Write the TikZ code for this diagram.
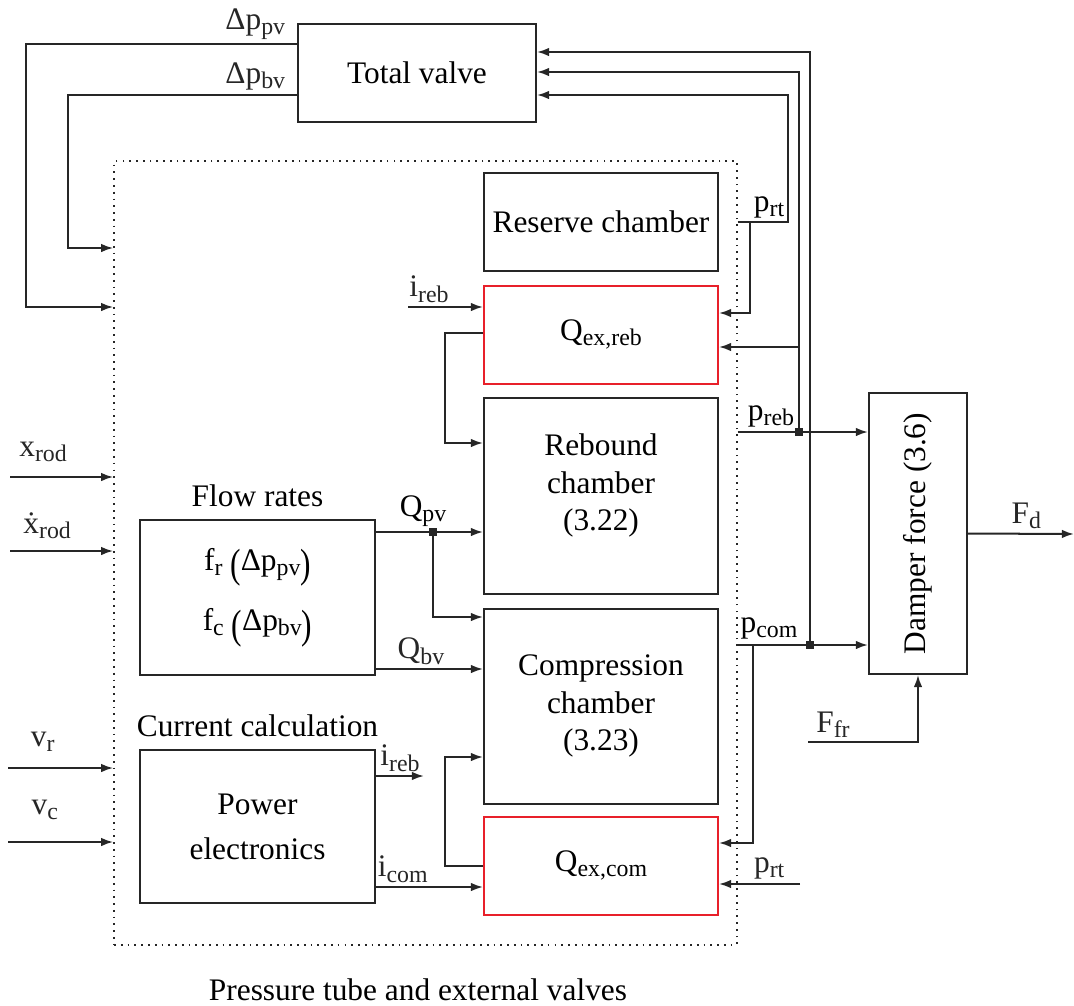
\documentclass[tikz,border=0pt]{standalone}
\usepackage{fontspec}
\setmainfont{Liberation Serif}
\usetikzlibrary{arrows.meta,positioning}
\definecolor{qred}{RGB}{232,32,42}
\newcommand{\sbs}[1]{\raisebox{-0.35ex}{\fontsize{9.5}{9.5}\selectfont #1}}
\newcommand{\bpar}[1]{\raisebox{-0.5ex}{\scalebox{1}[1.3]{#1}}}

\begin{document}
\begin{tikzpicture}[
  x=0.014cm, y=-0.014cm,
  font=\fontsize{12.5}{15}\selectfont,
  blockbox/.style = {
    rectangle, draw=black!85, line width=0.8pt,
    minimum width=3.276cm, minimum height=1.372cm,
    align=center, inner sep=2pt
  },
  redbox/.style = {blockbox, draw=qred},
  arrow/.style  = {-{Latex[length=1.7mm,width=1.2mm]}, line width=0.8pt, black!85},
  wire/.style   = {line width=0.8pt, black!85},
  junct/.style  = {rectangle, fill=black!85, inner sep=0pt, minimum size=1mm},
  lbl/.style    = {inner sep=1.5pt},
]
\useasboundingbox (0,0) rectangle (1074,1006);

%% ---- Outer blocks ----
\node[blockbox, minimum width=3.332cm] (tv) at (417,73) {Total valve};
\node[draw=black!85, dotted, line width=0.7pt,
      minimum width=8.722cm, minimum height=10.976cm] (tube) at (425.5,553) {};
\node (tubelbl) at (418,990) {Pressure tube and external valves};
\node[blockbox, minimum width=1.372cm, minimum height=3.934cm] (damp) at (918,533.5)
  {\rotatebox{90}{Damper force (3.6)}};

%% ---- Chamber column ----
\node[blockbox] (res) at (601,222) {Reserve chamber};
\node[redbox, below=1.8mm of res] (qreb) {Q\sbs{ex,reb}};
\node[blockbox, minimum height=2.744cm, below=1.75mm of qreb] (reb)
  {Rebound\\chamber\\(3.22)\\[-4pt]};
\node[blockbox, minimum height=2.73cm, below=1.75mm of reb] (com)
  {Compression\\chamber\\(3.23)};
\node[redbox, below=1.55mm of com] (qcom) {Q\sbs{ex,com}};

%% ---- Left column ----
\node[blockbox, minimum width=3.29cm, minimum height=2.17cm] (flow) at (257.5,597.5)
  {f\sbs{r} \bpar{(}Δp\sbs{pv}\bpar{)}\\[8pt] f\sbs{c} \bpar{(}Δp\sbs{bv}\bpar{)}};
\node[above=0.5mm of flow] (flowlbl) {Flow rates};
\node[blockbox, minimum width=3.29cm, minimum height=2.142cm] (pe) at (257.5,826.5)
  {Power\\[3pt]electronics};
\node[above=0.5mm of pe] (pelbl) {Current calculation};

%% ---- Junctions ----
\node[junct] (jpv)  at (433,532) {};
\node[junct] (jreb) at (799,432) {};
\node[junct] (jcom) at (810,645) {};
\coordinate (brt)  at (750,222);
\coordinate (bcom) at (753,645);

%% ---- Valve feedback ----
\draw[arrow] (tv.west |- 0,44) node[lbl, above left=0pt and 1mm] (lppv) {Δp\sbs{pv}}
  -| (26,307) -- (tube.west |- 0,307);
\draw[arrow] (tv.west |- 0,95) node[lbl, above left=0pt and 1mm] (lpbv) {Δp\sbs{bv}}
  -| (68,248) -- (tube.west |- 0,248);

%% ---- Pressures to the right ----
\draw[arrow] (tube.east |- 0,222) -| (788,95) -- (tv.east |- 0,95);
\node[lbl] (lprt) at (769,207) {p\sbs{rt}};
\draw[arrow] (brt) |- (qreb.east |- 0,313);

\draw[arrow] (tube.east |- 0,432) -- (damp.west |- 0,432);
\node[lbl] (lpreb) at (771,416) {p\sbs{reb}};
\draw[arrow] (jreb) |- (tv.east |- 0,72);
\draw[arrow] (jreb |- 0,347) -- (qreb.east |- 0,347);

\draw[arrow] (tube.east |- 0,645) -- (damp.west |- 0,645);
\node[lbl] (lpcom) at (769,628) {p\sbs{com}};
\draw[arrow] (jcom) |- (tv.east |- 0,52);
\draw[arrow] (bcom) |- (qcom.east |- 0,843);

\draw[arrow] (800,884) -- (qcom.east |- 0,884)
  node[lbl, pos=0.38, above] (lprt2) {p\sbs{rt}};

\draw[arrow] (808,742) node[lbl, above right=0pt and 0.5mm] (lffr) {F\sbs{fr}} -| (damp.south);
\draw[arrow] (damp.east) -- (1074,534) node[lbl, pos=0.55, above] (lfd) {F\sbs{d}};

%% ---- External inputs ----
\draw[arrow] (10,477) -- (tube.west |- 0,477) node[lbl, pos=0.32, above=1.5mm] (lx) {x\sbs{rod}};
\draw[arrow] (10,551) -- (tube.west |- 0,551) node[lbl, pos=0.36, above=1mm] (lxd) {\.{x}\sbs{rod}};
\draw[arrow] (8,768) -- (tube.west |- 0,768) node[lbl, pos=0.33, above=1.7mm] (lvr) {v\sbs{r}};
\draw[arrow] (8,842) -- (tube.west |- 0,842) node[lbl, pos=0.35, above=2.4mm] (lvc) {v\sbs{c}};

%% ---- Internal signals ----
\draw[arrow] (408,307) -- (qreb.west |- 0,307) node[lbl, pos=0.28, above] (lireb) {i\sbs{reb}};
\draw[arrow] (qreb.west |- 0,333) -| (445,443) -- (reb.west |- 0,443);
\draw[arrow] (flow.east |- 0,532) -- (reb.west |- 0,532);
\node[lbl] (lqpv) at (423,511) {Q\sbs{pv}};
\draw[arrow] (jpv) |- (com.west |- 0,617);
\draw[arrow] (flow.east |- 0,669) -- (com.west |- 0,669)
  node[lbl, pos=0.42, above] (lqbv) {Q\sbs{bv}};
\draw[arrow] (pe.east |- 0,776) -- (424,776) node[lbl, pos=0.5, above] (lireb2) {i\sbs{reb}};
\draw[arrow] (pe.east |- 0,887) -- (qcom.west |- 0,887)
  node[lbl, pos=0.25, above] (licom) {i\sbs{com}};
\draw[arrow] (qcom.west |- 0,866) -| (445,757) -- (com.west |- 0,757);

\end{tikzpicture}
\end{document}
